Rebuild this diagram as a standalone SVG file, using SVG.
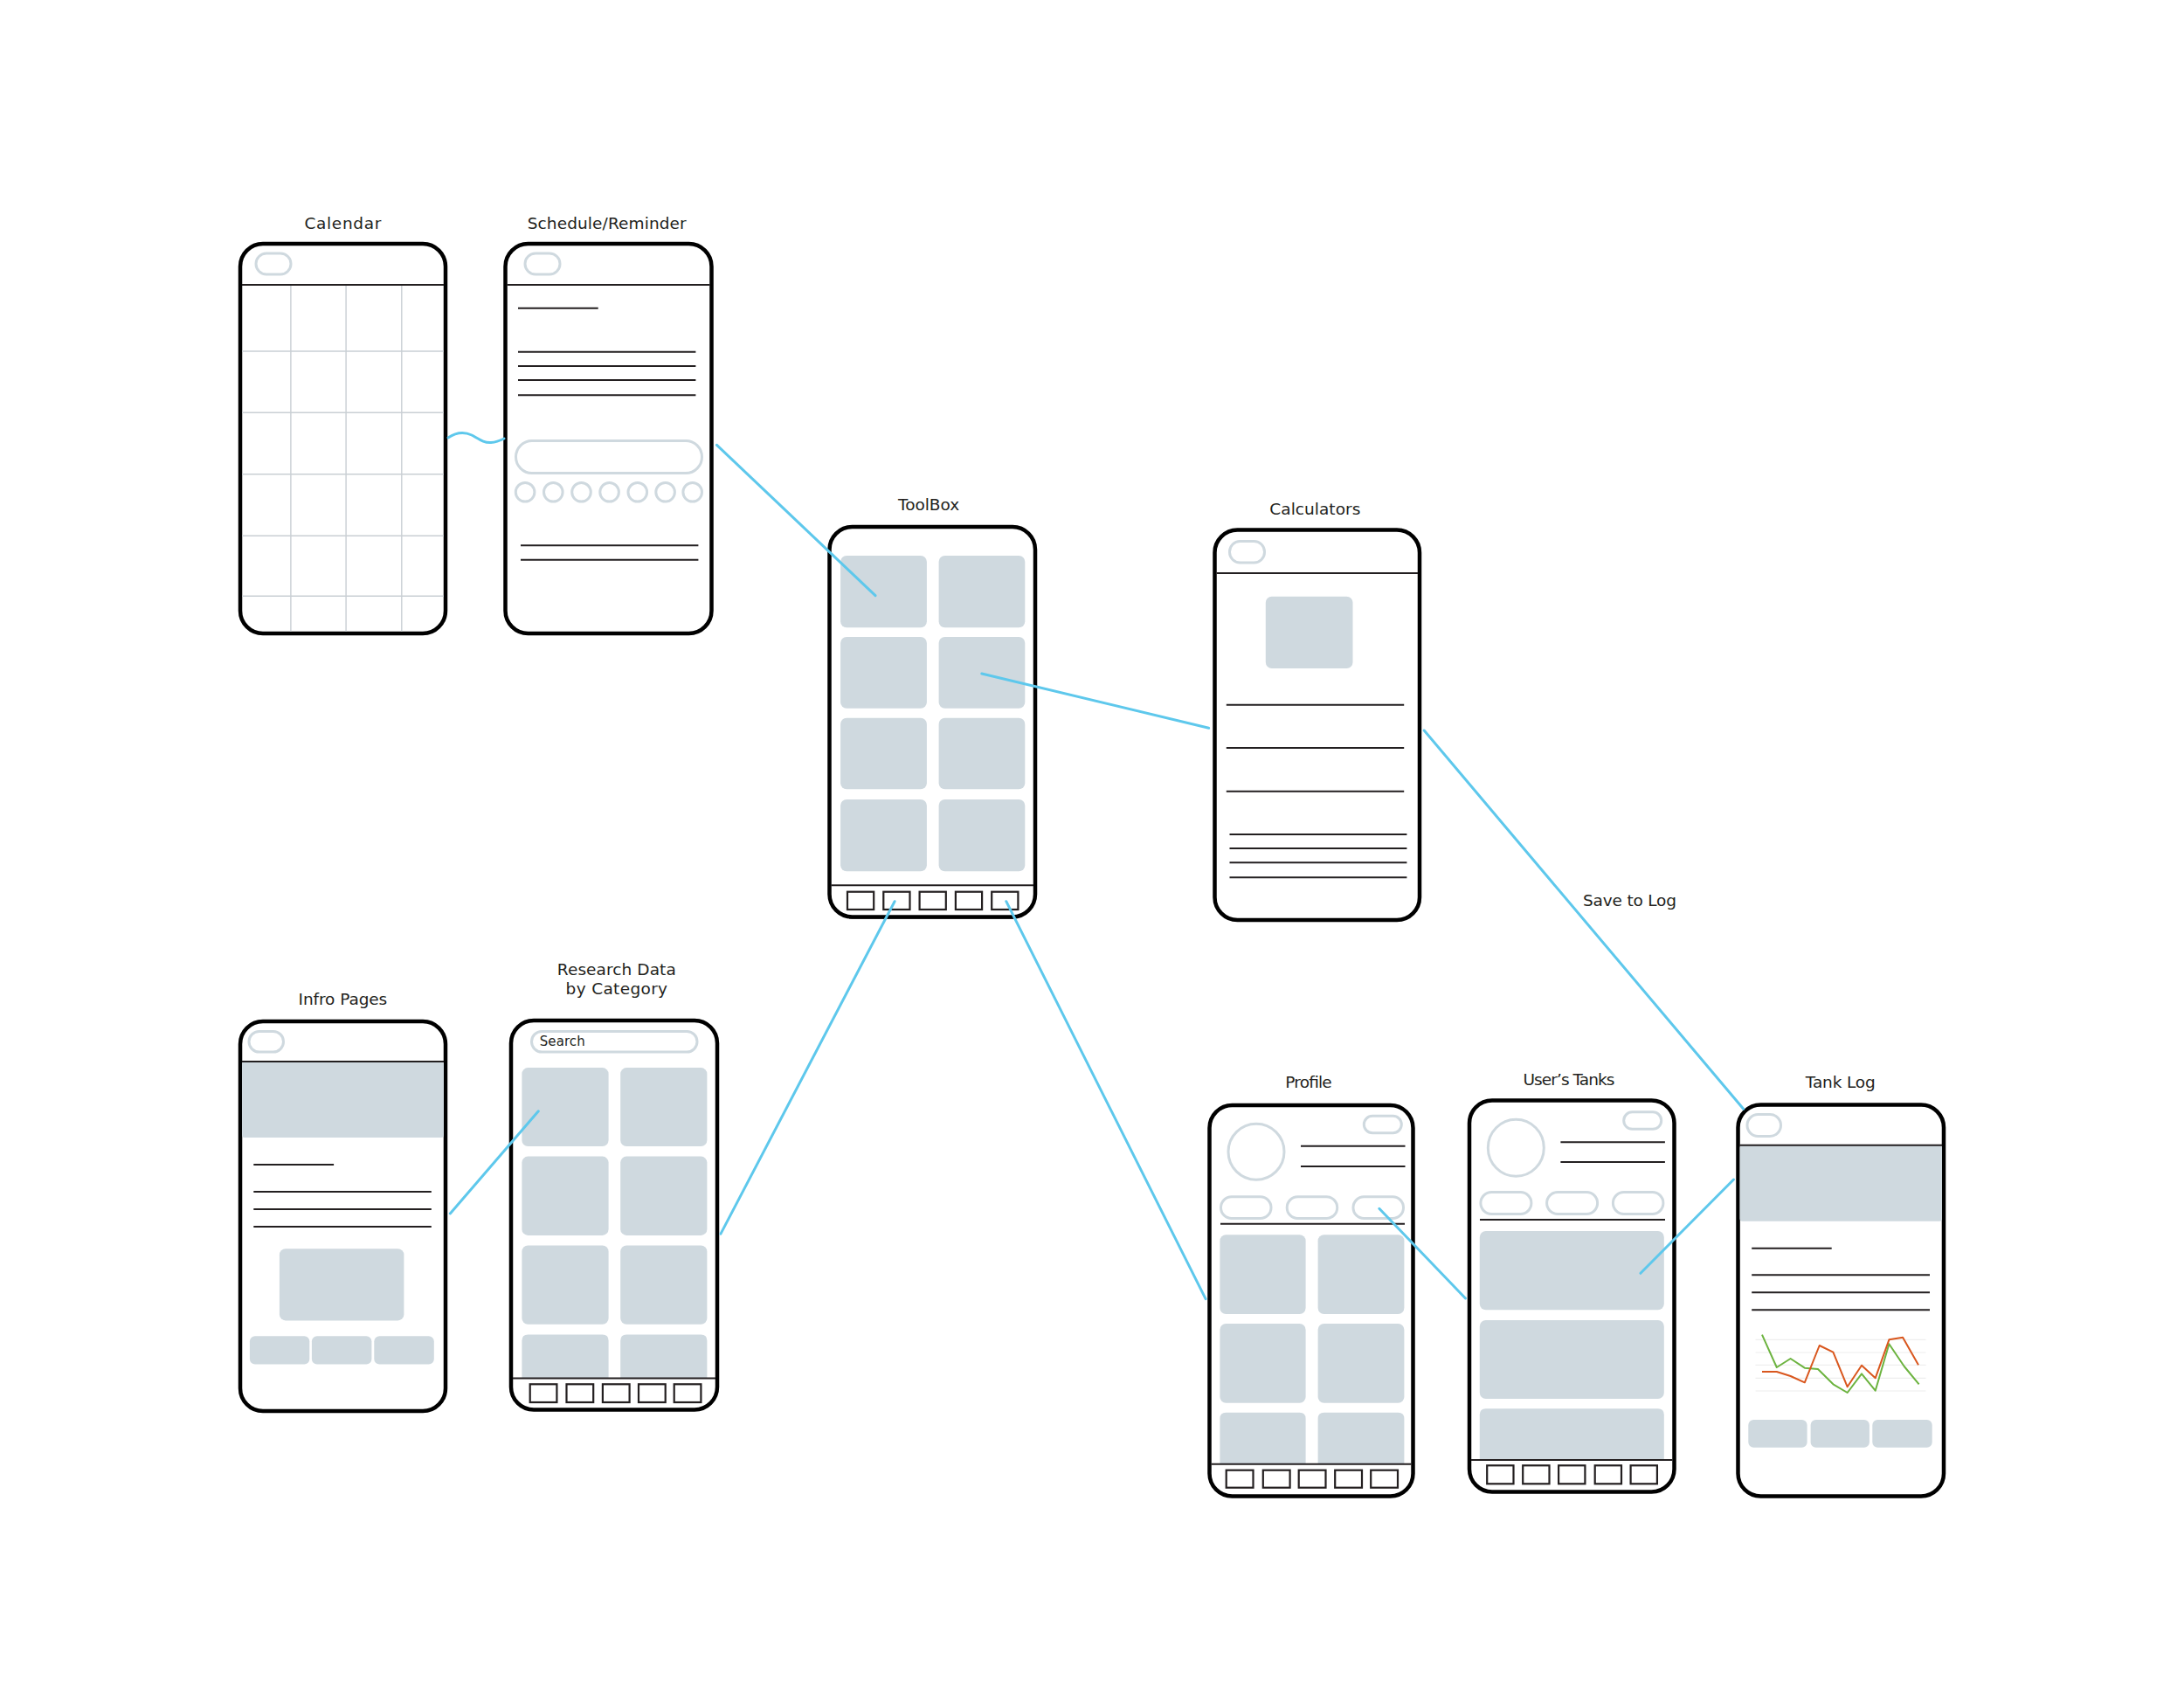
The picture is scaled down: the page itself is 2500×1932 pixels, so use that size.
<svg xmlns="http://www.w3.org/2000/svg" width="2500" height="1932" viewBox="0 0 2500 1932">
<style>
.bg{fill:#ffffff}
.phone{fill:#ffffff;stroke:#000000;stroke-width:4.5}
.hdr{stroke:#231f20;stroke-width:2;fill:none}
.ln{stroke:#231f20;stroke-width:2;fill:none}
.grid{stroke:#c9cfd4;stroke-width:1.4;fill:none}
.pill{fill:none;stroke:#cfd9df;stroke-width:3}
.tile{fill:#cfd9df;stroke:none}
.nav{fill:#ffffff;stroke:#231f20;stroke-width:2.2}
.conn{fill:none;stroke:#5ec8ec;stroke-width:3;stroke-linecap:round}
.lbl{font-family:"DejaVu Sans","Liberation Sans",sans-serif;font-size:18.5px;fill:#231f20;text-anchor:middle}
.small{font-family:"DejaVu Sans","Liberation Sans",sans-serif;font-size:15px;fill:#231f20}
.cg{stroke:#eeeeee;stroke-width:1.2;fill:none}
</style>
<rect class="bg" x="0" y="0" width="2500" height="1932"/>

<!-- Calendar -->
<g id="calendar">
<text class="lbl" x="392.4" y="261.7" textLength="87.7">Calendar</text>
<rect class="phone" x="275" y="279" width="235" height="446" rx="26"/>
<g class="grid">
<line x1="332.9" y1="326" x2="332.9" y2="723"/>
<line x1="396.1" y1="326" x2="396.1" y2="723"/>
<line x1="459.8" y1="326" x2="459.8" y2="723"/>
<line x1="277" y1="402" x2="508" y2="402"/>
<line x1="277" y1="472.3" x2="508" y2="472.3"/>
<line x1="277" y1="542.7" x2="508" y2="542.7"/>
<line x1="277" y1="613.3" x2="508" y2="613.3"/>
<line x1="277" y1="682.3" x2="508" y2="682.3"/>
</g>
<line class="hdr" x1="277" y1="326" x2="508" y2="326"/>
<rect class="pill" x="293" y="290" width="40" height="24" rx="12"/>
</g>

<!-- Schedule/Reminder -->
<g id="schedule">
<text class="lbl" x="694.7" y="261.7" textLength="182">Schedule/Reminder</text>
<rect class="phone" x="578.5" y="279" width="236" height="446" rx="26"/>
<line class="hdr" x1="580.5" y1="326" x2="812.5" y2="326"/>
<rect class="pill" x="601" y="290" width="40" height="24" rx="12"/>
<line class="ln" x1="593" y1="352.7" x2="684.7" y2="352.7"/>
<line class="ln" x1="593" y1="402.7" x2="796.4" y2="402.7"/>
<line class="ln" x1="593" y1="419" x2="796.4" y2="419"/>
<line class="ln" x1="593" y1="435" x2="796.4" y2="435"/>
<line class="ln" x1="593" y1="452.3" x2="796.4" y2="452.3"/>
<rect class="pill" x="590.5" y="504.5" width="213" height="37" rx="18.5"/>
<g class="pill">
<circle cx="601.1" cy="563.3" r="10.8"/>
<circle cx="633.3" cy="563.3" r="10.8"/>
<circle cx="665.5" cy="563.3" r="10.8"/>
<circle cx="697.6" cy="563.3" r="10.8"/>
<circle cx="729.8" cy="563.3" r="10.8"/>
<circle cx="761.6" cy="563.3" r="10.8"/>
<circle cx="792.7" cy="563.3" r="10.8"/>
</g>
<line class="ln" x1="596" y1="624.3" x2="799.4" y2="624.3"/>
<line class="ln" x1="596" y1="640.7" x2="799.4" y2="640.7"/>
</g>

<!-- ToolBox -->
<g id="toolbox">
<text class="lbl" x="1063.1" y="584" textLength="70">ToolBox</text>
<rect class="phone" x="949.5" y="603" width="235.5" height="446.5" rx="26"/>
<rect class="tile" x="962.1" y="636" width="98.8" height="82.3" rx="7"/>
<rect class="tile" x="1074.6" y="636" width="98.7" height="82.3" rx="7"/>
<rect class="tile" x="962.1" y="729" width="98.8" height="81.7" rx="7"/>
<rect class="tile" x="1074.6" y="729" width="98.7" height="81.7" rx="7"/>
<rect class="tile" x="962.1" y="821.7" width="98.8" height="81.6" rx="7"/>
<rect class="tile" x="1074.6" y="821.7" width="98.7" height="81.6" rx="7"/>
<rect class="tile" x="962.1" y="915" width="98.8" height="82.3" rx="7"/>
<rect class="tile" x="1074.6" y="915" width="98.7" height="82.3" rx="7"/>
<line class="hdr" x1="951.5" y1="1013.3" x2="1183" y2="1013.3"/>
<rect class="nav" x="970" y="1020.7" width="30.2" height="20.3"/>
<rect class="nav" x="1011.3" y="1020.7" width="30.2" height="20.3"/>
<rect class="nav" x="1052.6" y="1020.7" width="30.2" height="20.3"/>
<rect class="nav" x="1093.9" y="1020.7" width="30.2" height="20.3"/>
<rect class="nav" x="1135.2" y="1020.7" width="30.2" height="20.3"/>
<line x1="972" y1="1050" x2="1163" y2="1050" stroke="#000" stroke-width="3"/>
</g>

<!-- Calculators -->
<g id="calculators">
<text class="lbl" x="1505.3" y="589.3" textLength="104">Calculators</text>
<rect class="phone" x="1390.5" y="606.5" width="234.5" height="446.5" rx="26"/>
<line class="hdr" x1="1392.5" y1="656" x2="1623" y2="656"/>
<rect class="pill" x="1407.5" y="619.5" width="40" height="24.5" rx="12"/>
<rect class="tile" x="1448.8" y="682.7" width="99.7" height="82.3" rx="7"/>
<line class="ln" x1="1403.8" y1="806.7" x2="1607.2" y2="806.7"/>
<line class="ln" x1="1403.8" y1="856" x2="1607.2" y2="856"/>
<line class="ln" x1="1403.8" y1="905.7" x2="1607.2" y2="905.7"/>
<line class="ln" x1="1407.5" y1="955" x2="1610.4" y2="955"/>
<line class="ln" x1="1407.5" y1="971" x2="1610.4" y2="971"/>
<line class="ln" x1="1407.5" y1="987.3" x2="1610.4" y2="987.3"/>
<line class="ln" x1="1407.5" y1="1004.3" x2="1610.4" y2="1004.3"/>
</g>

<!-- Infro Pages -->
<g id="infro-pages">
<text class="lbl" x="392.4" y="1149.6" textLength="101.7">Infro Pages</text>
<rect class="phone" x="275" y="1169" width="235" height="446" rx="26"/>
<rect class="tile" x="277" y="1215" width="231" height="87.1" rx="3"/>
<line class="hdr" x1="277" y1="1215" x2="508" y2="1215"/>
<rect class="pill" x="285" y="1180.5" width="39.5" height="23.5" rx="11.7"/>
<line class="ln" x1="290.3" y1="1332.9" x2="382.1" y2="1332.9"/>
<line class="ln" x1="290.3" y1="1363.9" x2="493.8" y2="1363.9"/>
<line class="ln" x1="290.3" y1="1383.9" x2="493.8" y2="1383.9"/>
<line class="ln" x1="290.3" y1="1403.9" x2="493.8" y2="1403.9"/>
<rect class="tile" x="319.9" y="1429.3" width="142.5" height="82.1" rx="7"/>
<rect class="tile" x="285.9" y="1529.3" width="68.4" height="32.1" rx="6"/>
<rect class="tile" x="356.9" y="1529.3" width="68.5" height="32.1" rx="6"/>
<rect class="tile" x="428.3" y="1529.3" width="68.5" height="32.1" rx="6"/>
</g>

<!-- Research Data by Category -->
<g id="research">
<text class="lbl" x="705.8" y="1115.7" textLength="136">Research Data</text>
<text class="lbl" x="705.8" y="1138.2" textLength="116.5">by Category</text>
<rect class="phone" x="585" y="1168" width="236" height="445.5" rx="26"/>
<rect class="pill" x="608.5" y="1180.5" width="189.5" height="23.5" rx="11.7"/>
<text class="small" x="617.7" y="1197" textLength="52">Search</text>
<rect class="tile" x="597.4" y="1222.1" width="99.2" height="90" rx="7"/>
<rect class="tile" x="710.2" y="1222.1" width="99.2" height="90" rx="7"/>
<rect class="tile" x="597.4" y="1323.6" width="99.2" height="90.3" rx="7"/>
<rect class="tile" x="710.2" y="1323.6" width="99.2" height="90.3" rx="7"/>
<rect class="tile" x="597.4" y="1425.4" width="99.2" height="90.3" rx="7"/>
<rect class="tile" x="710.2" y="1425.4" width="99.2" height="90.3" rx="7"/>
<path class="tile" d="M597.4,1577.5 V1534.5 Q597.4,1527.5 604.4,1527.5 H689.6 Q696.6,1527.5 696.6,1534.5 V1577.5 Z"/>
<path class="tile" d="M710.2,1577.5 V1534.5 Q710.2,1527.5 717.2,1527.5 H802.4 Q809.4,1527.5 809.4,1534.5 V1577.5 Z"/>
<line class="hdr" x1="587" y1="1577.5" x2="819" y2="1577.5"/>
<rect class="nav" x="606.7" y="1584.3" width="30.7" height="20.7"/>
<rect class="nav" x="648.5" y="1584.3" width="30.7" height="20.7"/>
<rect class="nav" x="689.9" y="1584.3" width="30.7" height="20.7"/>
<rect class="nav" x="731" y="1584.3" width="30.7" height="20.7"/>
<rect class="nav" x="771.7" y="1584.3" width="30.7" height="20.7"/>
<line x1="608" y1="1613.5" x2="798" y2="1613.5" stroke="#000" stroke-width="3"/>
</g>

<!-- Profile -->
<g id="profile">
<text class="lbl" x="1498" y="1245" textLength="53.3">Profile</text>
<rect class="phone" x="1384.5" y="1265" width="233" height="447.5" rx="26"/>
<circle class="pill" cx="1438" cy="1318.3" r="32"/>
<rect class="pill" x="1561.3" y="1277.2" width="43" height="19.6" rx="9.8"/>
<line class="ln" x1="1489" y1="1311.7" x2="1608.5" y2="1311.7"/>
<line class="ln" x1="1489" y1="1335" x2="1608.5" y2="1335"/>
<rect class="pill" x="1397.5" y="1369.8" width="57.5" height="24.7" rx="12.3"/>
<rect class="pill" x="1473.2" y="1369.8" width="57.5" height="24.7" rx="12.3"/>
<rect class="pill" x="1549" y="1369.8" width="57.5" height="24.7" rx="12.3"/>
<line class="ln" x1="1397" y1="1400.7" x2="1608" y2="1400.7"/>
<rect class="tile" x="1396.4" y="1413.3" width="98.2" height="90.7" rx="7"/>
<rect class="tile" x="1508.6" y="1413.3" width="98.8" height="90.7" rx="7"/>
<rect class="tile" x="1396.4" y="1515" width="98.2" height="90.7" rx="7"/>
<rect class="tile" x="1508.6" y="1515" width="98.8" height="90.7" rx="7"/>
<path class="tile" d="M1396.4,1675.7 V1623.7 Q1396.4,1616.7 1403.4,1616.7 H1487.6 Q1494.6,1616.7 1494.6,1623.7 V1675.7 Z"/>
<path class="tile" d="M1508.6,1675.7 V1623.7 Q1508.6,1616.7 1515.6,1616.7 H1600.4 Q1607.4,1616.7 1607.4,1623.7 V1675.7 Z"/>
<line class="hdr" x1="1386.5" y1="1675.7" x2="1615.5" y2="1675.7"/>
<rect class="nav" x="1403.7" y="1682.7" width="30.8" height="20"/>
<rect class="nav" x="1445.8" y="1682.7" width="30.8" height="20"/>
<rect class="nav" x="1486.7" y="1682.7" width="30.8" height="20"/>
<rect class="nav" x="1528.2" y="1682.7" width="30.8" height="20"/>
<rect class="nav" x="1569.2" y="1682.7" width="30.8" height="20"/>
<line x1="1406" y1="1712.5" x2="1596" y2="1712.5" stroke="#000" stroke-width="3"/>
</g>

<!-- User's Tanks -->
<g id="users-tanks">
<text class="lbl" x="1796" y="1241.7" textLength="105">User’s Tanks</text>
<rect class="phone" x="1682" y="1259.5" width="234.5" height="448" rx="26"/>
<ellipse class="pill" cx="1735.3" cy="1313.7" rx="32" ry="32.5"/>
<rect class="pill" x="1858.7" y="1272.8" width="43" height="19.5" rx="9.7"/>
<line class="ln" x1="1786.4" y1="1307.3" x2="1905.9" y2="1307.3"/>
<line class="ln" x1="1786.4" y1="1330" x2="1905.9" y2="1330"/>
<rect class="pill" x="1694.9" y="1364.5" width="58" height="25" rx="12.5"/>
<rect class="pill" x="1770.6" y="1364.5" width="58" height="25" rx="12.5"/>
<rect class="pill" x="1846.4" y="1364.5" width="57.5" height="25" rx="12.5"/>
<line class="ln" x1="1694" y1="1396" x2="1906" y2="1396"/>
<rect class="tile" x="1693.8" y="1409" width="211" height="90.3" rx="7"/>
<rect class="tile" x="1693.8" y="1511" width="211" height="90" rx="7"/>
<path class="tile" d="M1693.8,1671 V1619.3 Q1693.8,1612.3 1700.8,1612.3 H1897.8 Q1904.8,1612.3 1904.8,1619.3 V1671 Z"/>
<line class="hdr" x1="1684" y1="1671" x2="1914.5" y2="1671"/>
<rect class="nav" x="1702.2" y="1677.3" width="30.3" height="21"/>
<rect class="nav" x="1743.2" y="1677.3" width="30.3" height="21"/>
<rect class="nav" x="1784.1" y="1677.3" width="30.3" height="21"/>
<rect class="nav" x="1825.7" y="1677.3" width="30.3" height="21"/>
<rect class="nav" x="1866.6" y="1677.3" width="30.3" height="21"/>
<line x1="1704" y1="1707.5" x2="1894" y2="1707.5" stroke="#000" stroke-width="3"/>
</g>

<!-- Tank Log -->
<g id="tank-log">
<text class="lbl" x="2106.8" y="1245" textLength="80">Tank Log</text>
<rect class="phone" x="1989.5" y="1264.5" width="235.5" height="448" rx="26"/>
<rect class="tile" x="1991.5" y="1310.7" width="231.5" height="87" rx="3"/>
<line class="hdr" x1="1991.5" y1="1310.7" x2="2223" y2="1310.7"/>
<rect class="pill" x="2000" y="1275.5" width="38.5" height="25" rx="12.5"/>
<line class="ln" x1="2005.2" y1="1428.7" x2="2096.7" y2="1428.7"/>
<line class="ln" x1="2005.2" y1="1459.3" x2="2209" y2="1459.3"/>
<line class="ln" x1="2005.2" y1="1479.3" x2="2209" y2="1479.3"/>
<line class="ln" x1="2005.2" y1="1499.3" x2="2209" y2="1499.3"/>
<g class="cg">
<line x1="2009.5" y1="1533.3" x2="2204.5" y2="1533.3"/>
<line x1="2009.5" y1="1548" x2="2204.5" y2="1548"/>
<line x1="2009.5" y1="1562.3" x2="2204.5" y2="1562.3"/>
<line x1="2009.5" y1="1577.3" x2="2204.5" y2="1577.3"/>
<line x1="2009.5" y1="1592" x2="2204.5" y2="1592"/>
</g>
<polyline fill="none" stroke="#6cb33f" stroke-width="2" stroke-linejoin="round" points="2017,1527.7 2033.8,1565 2049.6,1555 2065.8,1565.7 2081,1567 2098.4,1584.3 2114.7,1594 2131,1572.3 2146.7,1591.7 2162.4,1538.3 2179.8,1564 2196.6,1584.3"/>
<polyline fill="none" stroke="#d9571e" stroke-width="2" stroke-linejoin="round" points="2017,1570 2033.8,1570 2049.6,1575 2065.8,1582.3 2082.7,1540 2098.4,1547.7 2114.7,1587.3 2131,1562.7 2146.7,1577.3 2162.4,1533.3 2178.1,1530.7 2196,1562.3"/>
<rect class="tile" x="2001.3" y="1625" width="67.3" height="31.7" rx="6"/>
<rect class="tile" x="2072.6" y="1625" width="67.3" height="31.7" rx="6"/>
<rect class="tile" x="2143.3" y="1625" width="68.4" height="31.7" rx="6"/>
</g>

<!-- Connectors -->
<g id="connectors">
<path class="conn" d="M513,501 C522,495 531,494 540,498 C549,503 554,507 562,506.5 C569,506 573,504 577,502"/>
<line class="conn" x1="820.5" y1="509.3" x2="1002" y2="681.7"/>
<line class="conn" x1="1123.8" y1="771" x2="1383.6" y2="833.3"/>
<line class="conn" x1="1630.2" y1="836" x2="1995.7" y2="1269.3"/>
<line class="conn" x1="1024.1" y1="1031.7" x2="825" y2="1412.1"/>
<line class="conn" x1="1151.8" y1="1031.7" x2="1380.1" y2="1486.7"/>
<line class="conn" x1="515.3" y1="1388.9" x2="616.3" y2="1271.8"/>
<line class="conn" x1="1578.8" y1="1383.3" x2="1677.5" y2="1486"/>
<line class="conn" x1="1877.9" y1="1457.3" x2="1984.5" y2="1350"/>
<text class="lbl" x="1865.5" y="1037" textLength="107">Save to Log</text>
</g>
</svg>
